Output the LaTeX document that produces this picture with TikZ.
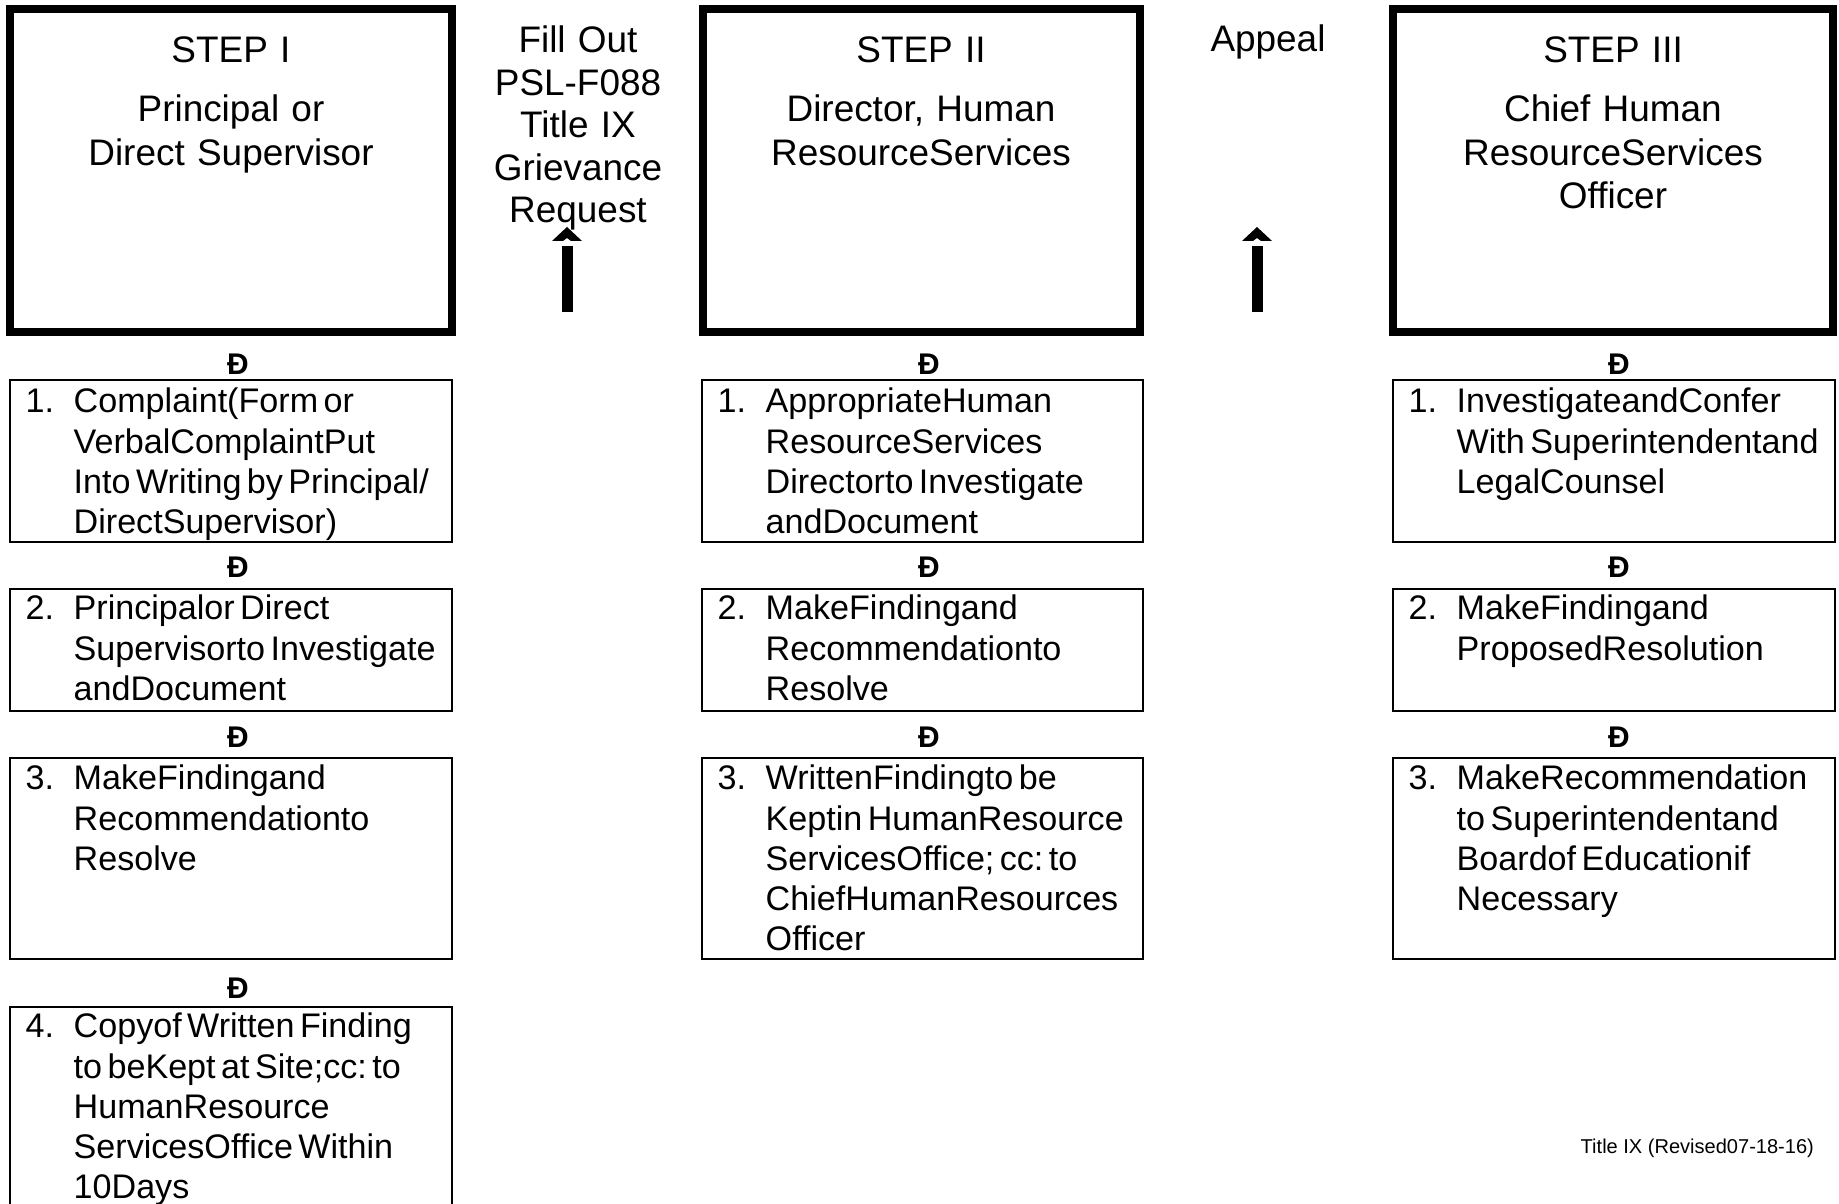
\documentclass[tikz,border=0pt]{standalone}
\usepackage{fontspec}
\setmainfont{Liberation Sans}
\frenchspacing
\begin{document}
\begin{tikzpicture}[x=0.01cm,y=-0.01cm,
    framebox/.style={line width=2.3pt},
    cellbox/.style={line width=0.6pt},
    head/.style={font=\fontsize{10.5}{12.25}\selectfont,align=center,text width=4cm,inner sep=0pt,anchor=base},
    item/.style={font=\fontsize{9.7}{11.4}\selectfont,execute at begin node={\spaceskip=1.55pt\relax},align=left,text width=3.75cm,inner sep=0pt,anchor=base west},
    num/.style={font=\fontsize{9.7}{11.4}\selectfont,inner sep=0pt,anchor=base west},
    flow/.style={font=\fontsize{8.5}{8.5}\selectfont\bfseries,inner sep=0pt,anchor=base}]
    \clip (0,0) rectangle (1839,1204);
    % the three steps
    \draw[framebox] (10,9) rectangle (452,332);
    \draw[framebox] (703,9) rectangle (1140,332);
    \draw[framebox] (1393,9) rectangle (1833,332);
    \node[head] (s1) at (231,63) {STEP I};
    \node[head] (s1b) at (231,122) {Principal or\\Direct Supervisor};
    \node[head] (s2) at (921,63) {STEP II};
    \node[head] (s2b) at (921,122) {Director, Human\\ResourceServices};
    \node[head] (s3) at (1613,63) {STEP III};
    \node[head] (s3b) at (1613,122) {Chief Human\\ResourceServices\\Officer};
    \node[head,font=\fontsize{10.5}{12.05}\selectfont] (fill) at (578,53) {Fill Out\\PSL-F088\\Title IX\\Grievance\\Request};
    \node[head] (appeal) at (1268,52) {Appeal};
    \foreach \ax in {567,1257}{
        \fill (\ax-5.5,246) rectangle (\ax+5.5,312);
        \fill (\ax-15,241) -- (\ax,227) -- (\ax+15,241) -- (\ax+4,241) -- (\ax,238) -- (\ax-4,241) -- cycle;
    }
    % column 1
    \draw[cellbox] (10,380) rectangle (452,542);
    \draw[cellbox] (10,589) rectangle (452,711);
    \draw[cellbox] (10,758) rectangle (452,959);
    \draw[cellbox] (10,1007) rectangle (452,1240);
    \node[flow] (m11) at (238,375) {Đ};
    \node[flow] (m12) at (238,578) {Đ};
    \node[flow] (m13) at (238,748) {Đ};
    \node[flow] (m14) at (238,999) {Đ};
    \node[num] (n11) at (25,413) {1.};
    \node[item] (t11) at (73,413) {Complaint(Form or\\VerbalComplaintPut\\Into Writing by Principal/\\DirectSupervisor)};
    \node[num] (n12) at (25,620) {2.};
    \node[item] (t12) at (73,620) {Principalor Direct\\Supervisorto Investigate\\andDocument};
    \node[num] (n13) at (25,790) {3.};
    \node[item] (t13) at (73,790) {MakeFindingand\\Recommendationto\\Resolve};
    \node[num] (n14) at (25,1038) {4.};
    \node[item] (t14) at (73,1038) {Copyof Written Finding\\to beKept at Site;cc: to\\HumanResource\\ServicesOffice Within\\10Days};
    % column 2
    \draw[cellbox] (702,380) rectangle (1143,542);
    \draw[cellbox] (702,589) rectangle (1143,711);
    \draw[cellbox] (702,758) rectangle (1143,959);
    \node[flow] (m21) at (929,375) {Đ};
    \node[flow] (m22) at (929,578) {Đ};
    \node[flow] (m23) at (929,748) {Đ};
    \node[num] (n21) at (717,413) {1.};
    \node[item] (t21) at (765,413) {AppropriateHuman\\ResourceServices\\Directorto Investigate\\andDocument};
    \node[num] (n22) at (717,620) {2.};
    \node[item] (t22) at (765,620) {MakeFindingand\\Recommendationto\\Resolve};
    \node[num] (n23) at (717,790) {3.};
    \node[item] (t23) at (765,790) {WrittenFindingto be\\Keptin HumanResource\\ServicesOffice; cc: to\\ChiefHumanResources\\Officer};
    % column 3
    \draw[cellbox] (1393,380) rectangle (1835,542);
    \draw[cellbox] (1393,589) rectangle (1835,711);
    \draw[cellbox] (1393,758) rectangle (1835,959);
    \node[flow] (m31) at (1619,375) {Đ};
    \node[flow] (m32) at (1619,578) {Đ};
    \node[flow] (m33) at (1619,748) {Đ};
    \node[num] (n31) at (1408,413) {1.};
    \node[item] (t31) at (1456,413) {InvestigateandConfer\\With Superintendentand\\LegalCounsel};
    \node[num] (n32) at (1408,620) {2.};
    \node[item] (t32) at (1456,620) {MakeFindingand\\ProposedResolution};
    \node[num] (n33) at (1408,790) {3.};
    \node[item] (t33) at (1456,790) {MakeRecommendation\\to Superintendentand\\Boardof Educationif\\Necessary};
    \node[font=\fontsize{5.7}{6.8}\selectfont,inner sep=0pt,anchor=base west] (rev) at (1580,1153) {Title IX (Revised07-18-16)};
\end{tikzpicture}
\end{document}
